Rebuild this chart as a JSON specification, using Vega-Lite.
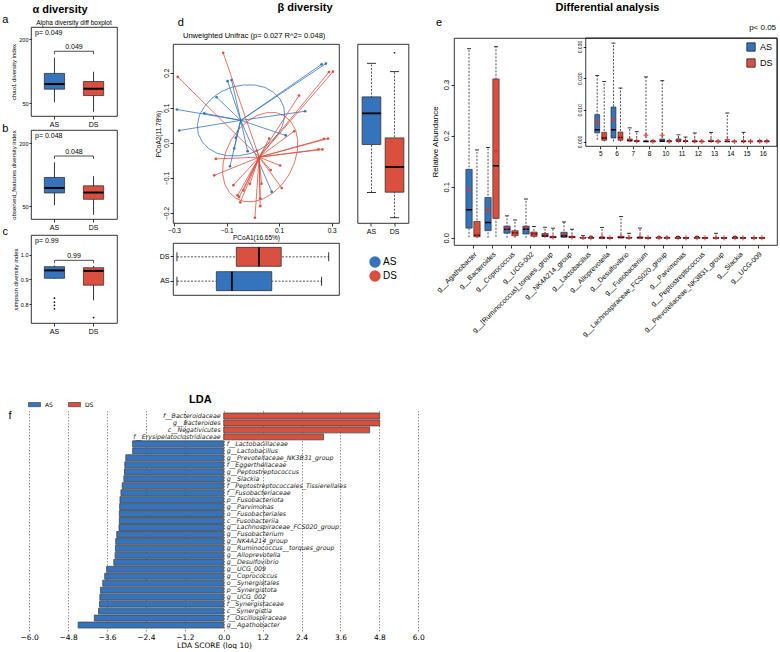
{
"$schema": "https://vega.github.io/schema/vega-lite/v6.json",
"padding": {"left": 0, "top": 2, "right": 0, "bottom": 0},
"background": "white",
"config": {
 "font": "Liberation Sans",
 "view": {"stroke": "black", "strokeWidth": 0.8},
 "axis": {"grid": false, "domain": false, "ticks": true, "tickColor": "black", "tickSize": 3, "tickWidth": 0.8, "labelColor": "black", "labelFontSize": 7, "labelPadding": 1, "titleColor": "black", "titleFontSize": 7, "titleFontWeight": "normal", "titlePadding": 2, "labelFont": "Liberation Sans", "titleFont": "Liberation Sans"},
 "title": {"color": "black", "font": "Liberation Sans"},
 "legend": {"labelFont": "Liberation Sans", "labelColor": "black"},
 "text": {"font": "Liberation Sans", "color": "black"}
},
"datasets": {
 "alpha": [
  {"metric":"chao1","group":"AS","lower":52,"q1":83,"median":95,"q3":120,"upper":157},
  {"metric":"chao1","group":"DS","lower":30,"q1":68,"median":84,"q3":101,"upper":124},
  {"metric":"observed","group":"AS","lower":53,"q1":82,"median":94,"q3":119,"upper":155},
  {"metric":"observed","group":"DS","lower":30,"q1":67,"median":83,"q3":99,"upper":122},
  {"metric":"simpson","group":"AS","lower":0.902,"q1":0.905,"median":0.937,"q3":0.952,"upper":0.957},
  {"metric":"simpson","group":"DS","lower":0.815,"q1":0.877,"median":0.935,"q3":0.948,"upper":0.955}
 ],
 "alpha_out": [
  {"group":"AS","value":0.824},{"group":"AS","value":0.808},{"group":"AS","value":0.795},{"group":"AS","value":0.781},{"group":"DS","value":0.745}
 ],
 "pcoa": [
  {"group":"AS","pc1":0.278,"pc2":0.226},{"group":"AS","pc1":0.262,"pc2":0.224},{"group":"AS","pc1":-0.096,"pc2":0.176},{"group":"AS","pc1":-0.081,"pc2":0.179},{"group":"AS","pc1":-0.138,"pc2":0.13},{"group":"AS","pc1":-0.289,"pc2":0.095},{"group":"AS","pc1":-0.185,"pc2":0.084},{"group":"AS","pc1":0.199,"pc2":0.09},{"group":"AS","pc1":-0.28,"pc2":0.035},{"group":"AS","pc1":0.125,"pc2":0.021},{"group":"AS","pc1":-0.065,"pc2":0.014},{"group":"AS","pc1":-0.071,"pc2":-0.016},{"group":"AS","pc1":-0.02,"pc2":-0.024},{"group":"AS","pc1":-0.087,"pc2":-0.067},{"group":"AS","pc1":0.072,"pc2":-0.14},
  {"group":"DS","pc1":-0.113,"pc2":0.257},{"group":"DS","pc1":-0.286,"pc2":0.188},{"group":"DS","pc1":0.305,"pc2":0.203},{"group":"DS","pc1":0.29,"pc2":0.202},{"group":"DS","pc1":0.176,"pc2":0.135},{"group":"DS","pc1":0.157,"pc2":0.033},{"group":"DS","pc1":0.286,"pc2":0.012},{"group":"DS","pc1":0.271,"pc2":0.011},{"group":"DS","pc1":0.265,"pc2":-0.019},{"group":"DS","pc1":0.25,"pc2":-0.019},{"group":"DS","pc1":0.062,"pc2":0.012},{"group":"DS","pc1":-0.141,"pc2":-0.046},{"group":"DS","pc1":-0.147,"pc2":-0.093},{"group":"DS","pc1":0.104,"pc2":-0.065},{"group":"DS","pc1":0.068,"pc2":-0.078},{"group":"DS","pc1":0.033,"pc2":-0.117},{"group":"DS","pc1":-0.011,"pc2":-0.117},{"group":"DS","pc1":-0.074,"pc2":-0.121},{"group":"DS","pc1":0.11,"pc2":-0.129},{"group":"DS","pc1":-0.036,"pc2":-0.136},{"group":"DS","pc1":-0.058,"pc2":-0.15},{"group":"DS","pc1":-0.052,"pc2":-0.155},{"group":"DS","pc1":-0.048,"pc2":-0.17},{"group":"DS","pc1":0.028,"pc2":-0.159},{"group":"DS","pc1":0.028,"pc2":-0.181},{"group":"DS","pc1":0.008,"pc2":-0.214},{"group":"DS","pc1":0.015,"pc2":-0.022}
 ],
 "centroid": [{"group":"AS","cx":-0.046,"cy":0.064},{"group":"DS","cx":0.024,"cy":-0.041}],
 "ellipse": [
  {"group":"AS","ord":0,"pc1":0.121,"pc2":0.076},{"group":"AS","ord":1,"pc1":0.118,"pc2":0.102},{"group":"AS","ord":2,"pc1":0.103,"pc2":0.125},{"group":"AS","ord":3,"pc1":0.079,"pc2":0.144},{"group":"AS","ord":4,"pc1":0.046,"pc2":0.158},{"group":"AS","ord":5,"pc1":0.007,"pc2":0.165},{"group":"AS","ord":6,"pc1":-0.036,"pc2":0.165},{"group":"AS","ord":7,"pc1":-0.079,"pc2":0.159},{"group":"AS","ord":8,"pc1":-0.12,"pc2":0.146},{"group":"AS","ord":9,"pc1":-0.156,"pc2":0.127},{"group":"AS","ord":10,"pc1":-0.184,"pc2":0.104},{"group":"AS","ord":11,"pc1":-0.203,"pc2":0.079},{"group":"AS","ord":12,"pc1":-0.211,"pc2":0.052},{"group":"AS","ord":13,"pc1":-0.208,"pc2":0.026},{"group":"AS","ord":14,"pc1":-0.193,"pc2":0.003},{"group":"AS","ord":15,"pc1":-0.169,"pc2":-0.016},{"group":"AS","ord":16,"pc1":-0.136,"pc2":-0.03},{"group":"AS","ord":17,"pc1":-0.097,"pc2":-0.037},{"group":"AS","ord":18,"pc1":-0.054,"pc2":-0.037},{"group":"AS","ord":19,"pc1":-0.011,"pc2":-0.031},{"group":"AS","ord":20,"pc1":0.03,"pc2":-0.018},{"group":"AS","ord":21,"pc1":0.066,"pc2":0.001},{"group":"AS","ord":22,"pc1":0.094,"pc2":0.024},{"group":"AS","ord":23,"pc1":0.113,"pc2":0.049},{"group":"AS","ord":24,"pc1":0.121,"pc2":0.076},
  {"group":"DS","ord":0,"pc1":0.169,"pc2":-0.025},{"group":"DS","ord":1,"pc1":0.171,"pc2":0.007},{"group":"DS","ord":2,"pc1":0.163,"pc2":0.036},{"group":"DS","ord":3,"pc1":0.145,"pc2":0.06},{"group":"DS","ord":4,"pc1":0.12,"pc2":0.077},{"group":"DS","ord":5,"pc1":0.089,"pc2":0.086},{"group":"DS","ord":6,"pc1":0.053,"pc2":0.086},{"group":"DS","ord":7,"pc1":0.016,"pc2":0.078},{"group":"DS","ord":8,"pc1":-0.021,"pc2":0.061},{"group":"DS","ord":9,"pc1":-0.054,"pc2":0.038},{"group":"DS","ord":10,"pc1":-0.082,"pc2":0.009},{"group":"DS","ord":11,"pc1":-0.102,"pc2":-0.024},{"group":"DS","ord":12,"pc1":-0.113,"pc2":-0.057},{"group":"DS","ord":13,"pc1":-0.115,"pc2":-0.089},{"group":"DS","ord":14,"pc1":-0.107,"pc2":-0.118},{"group":"DS","ord":15,"pc1":-0.089,"pc2":-0.142},{"group":"DS","ord":16,"pc1":-0.064,"pc2":-0.159},{"group":"DS","ord":17,"pc1":-0.033,"pc2":-0.168},{"group":"DS","ord":18,"pc1":0.003,"pc2":-0.168},{"group":"DS","ord":19,"pc1":0.04,"pc2":-0.16},{"group":"DS","ord":20,"pc1":0.077,"pc2":-0.143},{"group":"DS","ord":21,"pc1":0.11,"pc2":-0.12},{"group":"DS","ord":22,"pc1":0.138,"pc2":-0.091},{"group":"DS","ord":23,"pc1":0.158,"pc2":-0.058},{"group":"DS","ord":24,"pc1":0.169,"pc2":-0.025}
 ],
 "pc_box": [
  {"axis":"PC2","group":"AS","lower":-0.142,"q1":-0.005,"median":0.084,"q3":0.131,"upper":0.227},
  {"axis":"PC2","group":"DS","lower":-0.214,"q1":-0.141,"median":-0.069,"q3":0.014,"upper":0.203},
  {"axis":"PC1","group":"DS","lower":-0.289,"q1":-0.063,"median":0.023,"q3":0.108,"upper":0.289},
  {"axis":"PC1","group":"AS","lower":-0.289,"q1":-0.139,"median":-0.08,"q3":0.072,"upper":0.262}
 ],
 "pc_out": [{"group":"DS","pc2":0.257}],
 "diff": [
  {"genus":"g__Agathobacter","idx":"1","group":"AS","lower":0.001,"q1":0.019,"median":0.055,"q3":0.134,"upper":0.37,"mean":0.094},
  {"genus":"g__Agathobacter","idx":"1","group":"DS","lower":0,"q1":0.002,"median":0.0055,"q3":0.032,"upper":0.172,"mean":0.006},
  {"genus":"g__Bacteroides","idx":"2","group":"AS","lower":0,"q1":0.014,"median":0.03,"q3":0.079,"upper":0.177,"mean":0.055},
  {"genus":"g__Bacteroides","idx":"2","group":"DS","lower":0.002,"q1":0.038,"median":0.141,"q3":0.311,"upper":0.374,"mean":0.17},
  {"genus":"g__Coprococcus","idx":"3","group":"AS","lower":0,"q1":0.009,"median":0.017,"q3":0.023,"upper":0.043,"mean":0.019},
  {"genus":"g__Coprococcus","idx":"3","group":"DS","lower":0,"q1":0.004,"median":0.009,"q3":0.014,"upper":0.035,"mean":0.008},
  {"genus":"g__UCG-002","idx":"4","group":"AS","lower":0,"q1":0.0075,"median":0.017,"q3":0.023,"upper":0.076,"mean":0.02},
  {"genus":"g__UCG-002","idx":"4","group":"DS","lower":0,"q1":0.003,"median":0.007,"q3":0.0114,"upper":0.022,"mean":0.007},
  {"genus":"g__[Ruminococcus]_torques_group","idx":"5","group":"AS","lower":0.0005,"q1":0.0027,"median":0.0037,"q3":0.0085,"upper":0.0208,"mean":0.0061},
  {"genus":"g__[Ruminococcus]_torques_group","idx":"5","group":"DS","lower":0,"q1":0.0004,"median":0.0011,"q3":0.0029,"upper":0.019,"mean":0.0016},
  {"genus":"g__NK4A214_group","idx":"6","group":"AS","lower":0,"q1":0.0011,"median":0.0037,"q3":0.0109,"upper":0.0311,"mean":0.0071},
  {"genus":"g__NK4A214_group","idx":"6","group":"DS","lower":0,"q1":0.0004,"median":0.0013,"q3":0.003,"upper":0.0169,"mean":0.0015},
  {"genus":"g__Lactobacillus","idx":"7","group":"AS","lower":0,"q1":0.0001,"median":0.0004,"q3":0.0008,"upper":0.0043,"mean":0.0006},
  {"genus":"g__Lactobacillus","idx":"7","group":"DS","lower":0,"q1":0,"median":0.0001,"q3":0.0003,"upper":0.0031,"mean":0.0002},
  {"genus":"g__Alloprevotella","idx":"8","group":"AS","lower":0,"q1":0,"median":0,"q3":0.0002,"upper":0.0204,"mean":0.002},
  {"genus":"g__Alloprevotella","idx":"8","group":"DS","lower":0,"q1":0,"median":0,"q3":0.0001,"upper":0.0002,"mean":0.0001},
  {"genus":"g__Desulfovibrio","idx":"9","group":"AS","lower":0,"q1":0.0002,"median":0.0008,"q3":0.0025,"upper":0.0415,"mean":0.003},
  {"genus":"g__Desulfovibrio","idx":"9","group":"DS","lower":0,"q1":0,"median":0.0002,"q3":0.0006,"upper":0.009,"mean":0.0008},
  {"genus":"g__Fusobacterium","idx":"10","group":"AS","lower":0,"q1":0,"median":0.0001,"q3":0.0008,"upper":0.0192,"mean":0.002},
  {"genus":"g__Fusobacterium","idx":"10","group":"DS","lower":0,"q1":0,"median":0,"q3":0.0001,"upper":0.0003,"mean":0.0001},
  {"genus":"g__Lachnospiraceae_FCS020_group","idx":"11","group":"AS","lower":0,"q1":0.0001,"median":0.0002,"q3":0.0008,"upper":0.0021,"mean":0.0004},
  {"genus":"g__Lachnospiraceae_FCS020_group","idx":"11","group":"DS","lower":0,"q1":0,"median":0.0001,"q3":0.0002,"upper":0.0014,"mean":0.0002},
  {"genus":"g__Parvimonas","idx":"12","group":"AS","lower":0,"q1":0,"median":0,"q3":0.0002,"upper":0.0027,"mean":0.0002},
  {"genus":"g__Parvimonas","idx":"12","group":"DS","lower":0,"q1":0,"median":0,"q3":0,"upper":0.0001,"mean":0.00003},
  {"genus":"g__Peptostreptococcus","idx":"13","group":"AS","lower":0,"q1":0,"median":0.0001,"q3":0.0004,"upper":0.0029,"mean":0.0003},
  {"genus":"g__Peptostreptococcus","idx":"13","group":"DS","lower":0,"q1":0,"median":0,"q3":0,"upper":0.0001,"mean":0.00002},
  {"genus":"g__Prevotellaceae_NK3B31_group","idx":"14","group":"AS","lower":0,"q1":0,"median":0,"q3":0.0001,"upper":0.009,"mean":0.0006},
  {"genus":"g__Prevotellaceae_NK3B31_group","idx":"14","group":"DS","lower":0,"q1":0,"median":0,"q3":0,"upper":0.0001,"mean":0.00002},
  {"genus":"g__Slackia","idx":"15","group":"AS","lower":0,"q1":0,"median":0,"q3":0.0001,"upper":0.0029,"mean":0.0002},
  {"genus":"g__Slackia","idx":"15","group":"DS","lower":0,"q1":0,"median":0,"q3":0,"upper":0.0001,"mean":0.00002},
  {"genus":"g__UCG-009","idx":"16","group":"AS","lower":0,"q1":0,"median":0,"q3":0.0001,"upper":0.0003,"mean":0.0001},
  {"genus":"g__UCG-009","idx":"16","group":"DS","lower":0,"q1":0,"median":0,"q3":0.0001,"upper":0.0002,"mean":0.0001}
 ],
 "lda": [
  {"taxon":"f__Bacteroidaceae","lda":4.81,"group":"DS"},
  {"taxon":"g__Bacteroides","lda":4.81,"group":"DS"},
  {"taxon":"c__Negativicutes","lda":4.5,"group":"DS"},
  {"taxon":"f__Erysipelatoclostridiaceae","lda":3.08,"group":"DS"},
  {"taxon":"f__Lactobacillaceae","lda":-2.81,"group":"AS"},
  {"taxon":"g__Lactobacillus","lda":-2.81,"group":"AS"},
  {"taxon":"g__Prevotellaceae_NK3B31_group","lda":-3.02,"group":"AS"},
  {"taxon":"f__Eggerthellaceae","lda":-3.05,"group":"AS"},
  {"taxon":"g__Peptostreptococcus","lda":-3.06,"group":"AS"},
  {"taxon":"g__Slackia","lda":-3.08,"group":"AS"},
  {"taxon":"f__Peptostreptococcales_Tissierellales","lda":-3.13,"group":"AS"},
  {"taxon":"f__Fusobacteriaceae","lda":-3.17,"group":"AS"},
  {"taxon":"p__Fusobacteriota","lda":-3.2,"group":"AS"},
  {"taxon":"g__Parvimonas","lda":-3.21,"group":"AS"},
  {"taxon":"o__Fusobacteriales","lda":-3.22,"group":"AS"},
  {"taxon":"c__Fusobacteriia","lda":-3.22,"group":"AS"},
  {"taxon":"g__Lachnospiraceae_FCS020_group","lda":-3.23,"group":"AS"},
  {"taxon":"g__Fusobacterium","lda":-3.3,"group":"AS"},
  {"taxon":"g__NK4A214_group","lda":-3.33,"group":"AS"},
  {"taxon":"g__Ruminococcus__torques_group","lda":-3.34,"group":"AS"},
  {"taxon":"g__Alloprevotella","lda":-3.35,"group":"AS"},
  {"taxon":"g__Desulfovibrio","lda":-3.39,"group":"AS"},
  {"taxon":"g__UCG_009","lda":-3.61,"group":"AS"},
  {"taxon":"g__Coprococcus","lda":-3.67,"group":"AS"},
  {"taxon":"o__Synergistales","lda":-3.73,"group":"AS"},
  {"taxon":"p__Synergistota","lda":-3.8,"group":"AS"},
  {"taxon":"g__UCG_002","lda":-3.82,"group":"AS"},
  {"taxon":"f__Synergistaceae","lda":-3.83,"group":"AS"},
  {"taxon":"c__Synergistia","lda":-3.86,"group":"AS"},
  {"taxon":"f__Oscillospiraceae","lda":-3.99,"group":"AS"},
  {"taxon":"g__Agathobacter","lda":-4.49,"group":"AS"}
 ]
},
"spacing": 55,
"resolve": {"legend": {"color": "independent"}},
"vconcat": [
 {
  "hconcat": [
   {"width": 1, "height": 1, "view": {"stroke": null}, "data": {"values": [{}]}, "mark": {"type": "point", "opacity": 0, "size": 0}},
   {
    "hconcat": [
     {
      "vconcat": [
       {"width": 86, "height": 5, "view": {"stroke": null}, "data": {"values": [{}]}, "mark": {"type": "point", "opacity": 0, "size": 0},
        "title": {"text": "α diversity", "fontSize": 11, "fontWeight": "bold", "anchor": "middle", "frame": "group", "offset": 2, "dx": -14, "dy": 2}},
       {
        "width": 86, "height": 89,
        "layer": [
         {"data": {"name": "alpha"}, "transform": [{"filter": {"field": "metric", "equal": "chao1"}}],
          "mark": {"type": "rule", "color": "black", "strokeWidth": 0.8},
          "encoding": {
           "x": {"field": "group", "type": "nominal", "scale": {"domain": ["AS","DS"], "paddingInner": 0.3, "paddingOuter": 0.25}, "axis": {"title": null, "labelAngle": 0, "labelFontSize": 7}},
           "y": {"field": "lower", "type": "quantitative", "scale": {"domain": [20, 229], "nice": false, "zero": false}, "axis": {"values": [50,100,150,200], "title": "chao1 diversity index", "titleFontSize": 6, "labelFontSize": 5.5, "tickSize": 2, "titlePadding": 2}},
           "y2": {"field": "upper"}}},
         {"data": {"name": "alpha"}, "transform": [{"filter": {"field": "metric", "equal": "chao1"}}],
          "mark": {"type": "bar", "stroke": "#333", "strokeWidth": 0.8, "width": {"band": 0.74}},
          "encoding": {"x": {"field": "group", "type": "nominal"}, "y": {"field": "q1", "type": "quantitative"}, "y2": {"field": "q3"},
           "color": {"field": "group", "type": "nominal", "scale": {"domain": ["AS","DS"], "range": ["#3574BC","#D9503F"]}, "legend": null}}},
         {"data": {"name": "alpha"}, "transform": [{"filter": {"field": "metric", "equal": "chao1"}}],
          "mark": {"type": "tick", "color": "black", "thickness": 2, "size": 20, "opacity": 1},
          "encoding": {"x": {"field": "group", "type": "nominal"}, "y": {"field": "median", "type": "quantitative"}}},
         {"data": {"values": [{}]}, "mark": {"type": "rule", "color": "black", "strokeWidth": 0.7},
          "encoding": {"x": {"datum": "AS", "type": "nominal"}, "x2": {"datum": "DS"}, "y": {"datum": 172, "type": "quantitative"}}},
         {"data": {"values": [{}]}, "mark": {"type": "rule", "color": "black", "strokeWidth": 0.7},
          "encoding": {"x": {"datum": "AS", "type": "nominal"}, "y": {"datum": 172, "type": "quantitative"}, "y2": {"datum": 165}}},
         {"data": {"values": [{}]}, "mark": {"type": "rule", "color": "black", "strokeWidth": 0.7},
          "encoding": {"x": {"datum": "DS", "type": "nominal"}, "y": {"datum": 172, "type": "quantitative"}, "y2": {"datum": 165}}},
         {"data": {"values": [{}]}, "mark": {"type": "text", "fontSize": 7, "baseline": "bottom", "color": "black"},
          "encoding": {"x": {"datum": "AS", "type": "nominal", "bandPosition": 1.214}, "y": {"datum": 174, "type": "quantitative"}, "text": {"value": "0.049"}}},
         {"data": {"values": [{}]}, "mark": {"type": "text", "fontSize": 7, "align": "left", "baseline": "middle", "color": "black"},
          "encoding": {"x": {"datum": "AS", "type": "nominal", "bandPosition": -0.21}, "y": {"datum": 215, "type": "quantitative"}, "text": {"value": "p= 0.049"}}},
         {"data": {"values": [{}]}, "mark": {"type": "text", "fontSize": 6.5, "baseline": "middle", "color": "black"},
          "encoding": {"x": {"datum": "AS", "type": "nominal", "bandPosition": 1.214}, "y": {"datum": 238.5, "type": "quantitative"}, "text": {"value": "Alpha diversity diff boxplot"}}},
         {"data": {"values": [{}]}, "mark": {"type": "text", "fontSize": 11, "baseline": "middle", "color": "black"},
          "encoding": {"x": {"datum": "AS", "type": "nominal", "bandPosition": -1.3}, "y": {"datum": 244.3, "type": "quantitative"}, "text": {"value": "a"}}}
        ]
       },
       {
        "width": 86, "height": 89,
        "layer": [
         {"data": {"name": "alpha"}, "transform": [{"filter": {"field": "metric", "equal": "observed"}}],
          "mark": {"type": "rule", "color": "black", "strokeWidth": 0.8},
          "encoding": {
           "x": {"field": "group", "type": "nominal", "scale": {"domain": ["AS","DS"], "paddingInner": 0.3, "paddingOuter": 0.25}, "axis": {"title": null, "labelAngle": 0, "labelFontSize": 7}},
           "y": {"field": "lower", "type": "quantitative", "scale": {"domain": [20, 232], "nice": false, "zero": false}, "axis": {"values": [50,100,150,200], "title": "observed_features diversity index", "titleFontSize": 6, "labelFontSize": 5.5, "tickSize": 2, "titlePadding": 2}},
           "y2": {"field": "upper"}}},
         {"data": {"name": "alpha"}, "transform": [{"filter": {"field": "metric", "equal": "observed"}}],
          "mark": {"type": "bar", "stroke": "#333", "strokeWidth": 0.8, "width": {"band": 0.74}},
          "encoding": {"x": {"field": "group", "type": "nominal"}, "y": {"field": "q1", "type": "quantitative"}, "y2": {"field": "q3"},
           "color": {"field": "group", "type": "nominal", "scale": {"domain": ["AS","DS"], "range": ["#3574BC","#D9503F"]}, "legend": null}}},
         {"data": {"name": "alpha"}, "transform": [{"filter": {"field": "metric", "equal": "observed"}}],
          "mark": {"type": "tick", "color": "black", "thickness": 2, "size": 20, "opacity": 1},
          "encoding": {"x": {"field": "group", "type": "nominal"}, "y": {"field": "median", "type": "quantitative"}}},
         {"data": {"values": [{}]}, "mark": {"type": "rule", "color": "black", "strokeWidth": 0.7},
          "encoding": {"x": {"datum": "AS", "type": "nominal"}, "x2": {"datum": "DS"}, "y": {"datum": 170, "type": "quantitative"}}},
         {"data": {"values": [{}]}, "mark": {"type": "rule", "color": "black", "strokeWidth": 0.7},
          "encoding": {"x": {"datum": "AS", "type": "nominal"}, "y": {"datum": 170, "type": "quantitative"}, "y2": {"datum": 163}}},
         {"data": {"values": [{}]}, "mark": {"type": "rule", "color": "black", "strokeWidth": 0.7},
          "encoding": {"x": {"datum": "DS", "type": "nominal"}, "y": {"datum": 170, "type": "quantitative"}, "y2": {"datum": 163}}},
         {"data": {"values": [{}]}, "mark": {"type": "text", "fontSize": 7, "baseline": "bottom", "color": "black"},
          "encoding": {"x": {"datum": "AS", "type": "nominal", "bandPosition": 1.214}, "y": {"datum": 172, "type": "quantitative"}, "text": {"value": "0.048"}}},
         {"data": {"values": [{}]}, "mark": {"type": "text", "fontSize": 7, "align": "left", "baseline": "middle", "color": "black"},
          "encoding": {"x": {"datum": "AS", "type": "nominal", "bandPosition": -0.21}, "y": {"datum": 217, "type": "quantitative"}, "text": {"value": "p= 0.048"}}},
         {"data": {"values": [{}]}, "mark": {"type": "text", "fontSize": 11, "baseline": "middle", "color": "black"},
          "encoding": {"x": {"datum": "AS", "type": "nominal", "bandPosition": -1.3}, "y": {"datum": 234.4, "type": "quantitative"}, "text": {"value": "b"}}}
        ]
       },
       {
        "width": 86, "height": 88,
        "layer": [
         {"data": {"name": "alpha"}, "transform": [{"filter": {"field": "metric", "equal": "simpson"}}],
          "mark": {"type": "rule", "color": "black", "strokeWidth": 0.8},
          "encoding": {
           "x": {"field": "group", "type": "nominal", "scale": {"domain": ["AS","DS"], "paddingInner": 0.3, "paddingOuter": 0.25}, "axis": {"title": null, "labelAngle": 0, "labelFontSize": 7}},
           "y": {"field": "lower", "type": "quantitative", "scale": {"domain": [0.723, 1.081], "nice": false, "zero": false}, "axis": {"values": [0.8,0.9,1.0], "format": ".1f", "title": "simpson diversity index", "titleFontSize": 6, "labelFontSize": 5.5, "tickSize": 2, "titlePadding": 2}},
           "y2": {"field": "upper"}}},
         {"data": {"name": "alpha"}, "transform": [{"filter": {"field": "metric", "equal": "simpson"}}],
          "mark": {"type": "bar", "stroke": "#333", "strokeWidth": 0.8, "width": {"band": 0.74}},
          "encoding": {"x": {"field": "group", "type": "nominal"}, "y": {"field": "q1", "type": "quantitative"}, "y2": {"field": "q3"},
           "color": {"field": "group", "type": "nominal", "scale": {"domain": ["AS","DS"], "range": ["#3574BC","#D9503F"]}, "legend": null}}},
         {"data": {"name": "alpha"}, "transform": [{"filter": {"field": "metric", "equal": "simpson"}}],
          "mark": {"type": "tick", "color": "black", "thickness": 2, "size": 20, "opacity": 1},
          "encoding": {"x": {"field": "group", "type": "nominal"}, "y": {"field": "median", "type": "quantitative"}}},
         {"data": {"name": "alpha_out"}, "mark": {"type": "point", "filled": true, "size": 3, "color": "black", "opacity": 1},
          "encoding": {"x": {"field": "group", "type": "nominal"}, "y": {"field": "value", "type": "quantitative"}}},
         {"data": {"values": [{}]}, "mark": {"type": "rule", "color": "black", "strokeWidth": 0.7},
          "encoding": {"x": {"datum": "AS", "type": "nominal"}, "x2": {"datum": "DS"}, "y": {"datum": 0.978, "type": "quantitative"}}},
         {"data": {"values": [{}]}, "mark": {"type": "rule", "color": "black", "strokeWidth": 0.7},
          "encoding": {"x": {"datum": "AS", "type": "nominal"}, "y": {"datum": 0.978, "type": "quantitative"}, "y2": {"datum": 0.966}}},
         {"data": {"values": [{}]}, "mark": {"type": "rule", "color": "black", "strokeWidth": 0.7},
          "encoding": {"x": {"datum": "DS", "type": "nominal"}, "y": {"datum": 0.978, "type": "quantitative"}, "y2": {"datum": 0.966}}},
         {"data": {"values": [{}]}, "mark": {"type": "text", "fontSize": 7, "baseline": "bottom", "color": "black"},
          "encoding": {"x": {"datum": "AS", "type": "nominal", "bandPosition": 1.214}, "y": {"datum": 0.982, "type": "quantitative"}, "text": {"value": "0.99"}}},
         {"data": {"values": [{}]}, "mark": {"type": "text", "fontSize": 7, "align": "left", "baseline": "middle", "color": "black"},
          "encoding": {"x": {"datum": "AS", "type": "nominal", "bandPosition": -0.21}, "y": {"datum": 1.057, "type": "quantitative"}, "text": {"value": "p= 0.99"}}},
         {"data": {"values": [{}]}, "mark": {"type": "text", "fontSize": 11, "baseline": "middle", "color": "black"},
          "encoding": {"x": {"datum": "AS", "type": "nominal", "bandPosition": -1.3}, "y": {"datum": 1.093, "type": "quantitative"}, "text": {"value": "c"}}}
        ]
       }
      ],
      "spacing": -6,
      "resolve": {"legend": {"color": "independent"}}
     },
     {
      "hconcat": [
       {
        "vconcat": [
         {"width": 166, "height": 1, "view": {"stroke": null}, "data": {"values": [{}]}, "mark": {"type": "point", "opacity": 0, "size": 0},
          "title": {"text": "β diversity", "fontSize": 11, "fontWeight": "bold", "anchor": "middle", "frame": "group", "offset": 2, "dx": 49}},
         {
          "hconcat": [
           {
            "width": 166, "height": 179,
            "layer": [
             {"data": {"name": "ellipse"}, "mark": {"type": "line", "strokeWidth": 0.8},
              "encoding": {
               "x": {"field": "pc1", "type": "quantitative", "scale": {"domain": [-0.304, 0.328], "nice": false, "zero": false}, "axis": {"values": [-0.3,-0.2,-0.1,0,0.1,0.2,0.3], "format": ".1f", "title": "PCoA1(16.65%)", "titleFontSize": 6.5, "labelFontSize": 6.5, "titlePadding": 1}},
               "y": {"field": "pc2", "type": "quantitative", "scale": {"domain": [-0.229, 0.282], "nice": false, "zero": false}, "axis": {"values": [-0.2,-0.1,0,0.1,0.2], "format": ".1f", "title": "PCoA2(11.78%)", "labelAngle": -90, "labelAlign": "center", "labelBaseline": "bottom", "titleFontSize": 6.5, "labelFontSize": 6.5}},
               "color": {"field": "group", "type": "nominal", "scale": {"domain": ["AS","DS"], "range": ["#3574BC","#D9503F"]}, "legend": null},
               "detail": {"field": "group"},
               "order": {"field": "ord", "type": "quantitative"}}},
             {"data": {"name": "pcoa"}, "transform": [{"lookup": "group", "from": {"data": {"name": "centroid"}, "key": "group", "fields": ["cx", "cy"]}}],
              "mark": {"type": "rule", "strokeWidth": 0.8},
              "encoding": {"x": {"field": "cx", "type": "quantitative"}, "y": {"field": "cy", "type": "quantitative"}, "x2": {"field": "pc1"}, "y2": {"field": "pc2"},
               "color": {"field": "group", "type": "nominal", "legend": null}}},
             {"data": {"name": "pcoa"}, "mark": {"type": "point", "filled": true, "size": 7, "opacity": 1},
              "encoding": {"x": {"field": "pc1", "type": "quantitative"}, "y": {"field": "pc2", "type": "quantitative"},
               "color": {"field": "group", "type": "nominal", "legend": null}}},
             {"data": {"values": [{}]}, "mark": {"type": "text", "fontSize": 7.5, "baseline": "middle", "color": "black"},
              "encoding": {"x": {"datum": 0.005, "type": "quantitative"}, "y": {"datum": 0.305, "type": "quantitative"}, "text": {"value": "Unweighted Unifrac (p= 0.027  R^2= 0.048)"}}},
             {"data": {"values": [{}]}, "mark": {"type": "text", "fontSize": 11, "baseline": "middle", "color": "black"},
              "encoding": {"x": {"datum": -0.274, "type": "quantitative"}, "y": {"datum": 0.343, "type": "quantitative"}, "text": {"value": "d"}}}
            ]
           },
           {
            "width": 51, "height": 179,
            "layer": [
             {"data": {"name": "pc_box"}, "transform": [{"filter": {"field": "axis", "equal": "PC2"}}],
              "mark": {"type": "rule", "color": "black", "strokeWidth": 0.7, "strokeDash": [2, 1.5]},
              "encoding": {"x": {"field": "group", "type": "nominal", "scale": {"domain": ["AS","DS"], "paddingInner": 0.19, "paddingOuter": 0.2}, "axis": {"title": null, "labelAngle": 0, "labelFontSize": 7}},
               "y": {"field": "lower", "type": "quantitative", "scale": {"domain": [-0.229, 0.282], "nice": false, "zero": false}, "axis": null}, "y2": {"field": "upper"}}},
             {"data": {"name": "pc_box"}, "transform": [{"filter": {"field": "axis", "equal": "PC2"}}],
              "mark": {"type": "tick", "color": "black", "thickness": 0.8, "size": 9, "opacity": 1},
              "encoding": {"x": {"field": "group", "type": "nominal"}, "y": {"field": "upper", "type": "quantitative"}}},
             {"data": {"name": "pc_box"}, "transform": [{"filter": {"field": "axis", "equal": "PC2"}}],
              "mark": {"type": "tick", "color": "black", "thickness": 0.8, "size": 9, "opacity": 1},
              "encoding": {"x": {"field": "group", "type": "nominal"}, "y": {"field": "lower", "type": "quantitative"}}},
             {"data": {"name": "pc_box"}, "transform": [{"filter": {"field": "axis", "equal": "PC2"}}],
              "mark": {"type": "bar", "stroke": "#333", "strokeWidth": 0.8},
              "encoding": {"x": {"field": "group", "type": "nominal"}, "y": {"field": "q1", "type": "quantitative"}, "y2": {"field": "q3"},
               "color": {"field": "group", "type": "nominal", "legend": null}}},
             {"data": {"name": "pc_box"}, "transform": [{"filter": {"field": "axis", "equal": "PC2"}}],
              "mark": {"type": "tick", "color": "black", "thickness": 1.8, "size": 18.6, "opacity": 1},
              "encoding": {"x": {"field": "group", "type": "nominal"}, "y": {"field": "median", "type": "quantitative"}}},
             {"data": {"name": "pc_out"}, "mark": {"type": "point", "filled": true, "size": 3, "color": "black", "opacity": 1},
              "encoding": {"x": {"field": "group", "type": "nominal"}, "y": {"field": "pc2", "type": "quantitative"}}}
            ]
           }
          ],
          "spacing": 16.5,
          "resolve": {"legend": {"color": "independent"}}
         },
         {
          "width": 166, "height": 52,
          "layer": [
           {"data": {"name": "pc_box"}, "transform": [{"filter": {"field": "axis", "equal": "PC1"}}],
            "mark": {"type": "rule", "color": "black", "strokeWidth": 0.7, "strokeDash": [2, 1.5]},
            "encoding": {"y": {"field": "group", "type": "nominal", "scale": {"domain": ["DS","AS"], "paddingInner": 0.22, "paddingOuter": 0.18}, "axis": {"title": null, "labelFontSize": 7}},
             "x": {"field": "lower", "type": "quantitative", "scale": {"domain": [-0.304, 0.328], "nice": false, "zero": false}, "axis": null}, "x2": {"field": "upper"}}},
           {"data": {"name": "pc_box"}, "transform": [{"filter": {"field": "axis", "equal": "PC1"}}],
            "mark": {"type": "tick", "color": "black", "thickness": 0.8, "size": 9, "opacity": 1},
            "encoding": {"y": {"field": "group", "type": "nominal"}, "x": {"field": "upper", "type": "quantitative"}}},
           {"data": {"name": "pc_box"}, "transform": [{"filter": {"field": "axis", "equal": "PC1"}}],
            "mark": {"type": "tick", "color": "black", "thickness": 0.8, "size": 9, "opacity": 1},
            "encoding": {"y": {"field": "group", "type": "nominal"}, "x": {"field": "lower", "type": "quantitative"}}},
           {"data": {"name": "pc_box"}, "transform": [{"filter": {"field": "axis", "equal": "PC1"}}],
            "mark": {"type": "bar", "stroke": "#333", "strokeWidth": 0.8},
            "encoding": {"y": {"field": "group", "type": "nominal"}, "x": {"field": "q1", "type": "quantitative"}, "x2": {"field": "q3"},
             "color": {"field": "group", "type": "nominal", "legend": {"orient": "none", "legendX": 196, "legendY": 13, "title": null, "symbolType": "circle", "symbolSize": 130, "symbolStrokeWidth": 0, "labelFontSize": 10, "rowPadding": 2, "padding": 0, "labelOffset": 2}}}},
           {"data": {"name": "pc_box"}, "transform": [{"filter": {"field": "axis", "equal": "PC1"}}],
            "mark": {"type": "tick", "color": "black", "thickness": 1.8, "size": 19, "opacity": 1},
            "encoding": {"y": {"field": "group", "type": "nominal"}, "x": {"field": "median", "type": "quantitative"}}}
          ]
         }
        ],
        "spacing": 0,
        "resolve": {"legend": {"color": "independent"}}
       },
       {
        "vconcat": [
         {"width": 323, "height": 1, "view": {"stroke": null}, "data": {"values": [{}]}, "mark": {"type": "point", "opacity": 0, "size": 0},
          "title": {"text": "Differential analysis", "fontSize": 11, "fontWeight": "bold", "anchor": "middle", "frame": "group", "offset": 2, "dx": -8}},
         {
          "width": 323, "height": 207,
          "resolve": {"scale": {"x": "independent", "y": "independent", "xOffset": "independent"}},
          "layer": [
           {
            "layer": [
             {"data": {"name": "diff"},
              "mark": {"type": "rule", "color": "black", "strokeWidth": 0.7, "strokeDash": [2, 1.5]},
              "encoding": {
               "x": {"field": "genus", "type": "nominal", "scale": {"domain": ["g__Agathobacter","g__Bacteroides","g__Coprococcus","g__UCG-002","g__[Ruminococcus]_torques_group","g__NK4A214_group","g__Lactobacillus","g__Alloprevotella","g__Desulfovibrio","g__Fusobacterium","g__Lachnospiraceae_FCS020_group","g__Parvimonas","g__Peptostreptococcus","g__Prevotellaceae_NK3B31_group","g__Slackia","g__UCG-009"], "paddingInner": 0, "paddingOuter": 0.5}, "axis": {"title": null, "labelAngle": -45, "labelFontSize": 7, "labelPadding": 2}},
               "xOffset": {"field": "group", "type": "nominal", "scale": {"paddingInner": 0.2, "paddingOuter": 0.295}},
               "y": {"field": "lower", "type": "quantitative", "scale": {"domain": [-0.014, 0.391], "nice": false, "zero": false}, "axis": {"values": [0, 0.1, 0.2, 0.3], "format": ".1f", "title": "Relative Abundance", "titleFontSize": 8, "labelFontSize": 7.5, "labelAngle": -90, "labelAlign": "center", "labelBaseline": "bottom", "titlePadding": 3}},
               "y2": {"field": "upper"}}},
             {"data": {"name": "diff"},
              "mark": {"type": "tick", "color": "black", "thickness": 0.8, "size": 4, "opacity": 1},
              "encoding": {"x": {"field": "genus", "type": "nominal"}, "xOffset": {"field": "group", "type": "nominal"}, "y": {"field": "upper", "type": "quantitative"}}},
             {"data": {"name": "diff"},
              "mark": {"type": "bar", "stroke": "#222", "strokeWidth": 0.6},
              "encoding": {"x": {"field": "genus", "type": "nominal"}, "xOffset": {"field": "group", "type": "nominal"}, "y": {"field": "q1", "type": "quantitative"}, "y2": {"field": "q3"},
               "color": {"field": "group", "type": "nominal", "legend": {"orient": "top-right", "offset": 4, "title": null, "symbolType": "square", "symbolSize": 70, "symbolStrokeColor": "black", "symbolStrokeWidth": 0.8, "labelFontSize": 9, "rowPadding": 4}}}},
             {"data": {"name": "diff"},
              "mark": {"type": "tick", "color": "black", "thickness": 1.5, "size": 6, "opacity": 1},
              "encoding": {"x": {"field": "genus", "type": "nominal"}, "xOffset": {"field": "group", "type": "nominal"}, "y": {"field": "median", "type": "quantitative"}}},
             {"data": {"name": "diff"},
              "mark": {"type": "point", "shape": "M-1,0L1,0M0,-1L0,1", "filled": false, "stroke": "#E8302A", "strokeWidth": 1, "size": 25, "opacity": 1},
              "encoding": {"x": {"field": "genus", "type": "nominal"}, "xOffset": {"field": "group", "type": "nominal"}, "y": {"field": "mean", "type": "quantitative"}}},
             {"data": {"values": [{}]}, "mark": {"type": "text", "fontSize": 11, "baseline": "middle", "color": "black"},
              "encoding": {"x": {"datum": "g__Agathobacter", "type": "nominal", "bandPosition": -1.29}, "y": {"datum": 0.42, "type": "quantitative"}, "text": {"value": "e"}}},
             {"data": {"values": [{}]}, "mark": {"type": "text", "fontSize": 8, "baseline": "middle", "align": "right", "color": "black"},
              "encoding": {"x": {"datum": "g__UCG-009", "type": "nominal", "bandPosition": 1.45}, "y": {"datum": 0.411, "type": "quantitative"}, "text": {"value": "p< 0.05"}}}
            ]
           },
           {
            "layer": [
             {"data": {"values": [{}]}, "mark": {"type": "rect", "fill": "white", "fillOpacity": 0, "stroke": "black", "strokeWidth": 0.8},
              "encoding": {
               "x": {"datum": "5", "type": "nominal", "bandPosition": -0.42, "scale": {"domain": ["5","6","7","8","10","11","12","13","14","15","16"], "range": [138.57, 317.43], "paddingInner": 0, "paddingOuter": 0}, "axis": {"orient": "bottom", "offset": -98.7, "title": null, "labelAngle": 0, "labelFontSize": 6.5, "tickSize": 2.5, "labelPadding": 2}},
               "x2": {"datum": "16", "bandPosition": 1.34},
               "y": {"datum": 0.0327, "type": "quantitative", "scale": {"domain": [-0.0327, 0.0327], "nice": false, "zero": false}, "axis": {"orient": "left", "offset": -131.7, "values": [0, 0.005, 0.01, 0.015, 0.02, 0.025, 0.03], "format": ".3f", "labelAngle": -90, "labelAlign": "center", "labelBaseline": "bottom", "labelFontSize": 5, "tickSize": 2.5, "labelPadding": 1, "title": null}},
               "y2": {"datum": -0.00152}}},
             {"data": {"name": "diff"}, "transform": [{"filter": {"field": "idx", "oneOf": ["5","6","7","8","10","11","12","13","14","15","16"]}}],
              "mark": {"type": "rule", "color": "black", "strokeWidth": 0.7, "strokeDash": [2, 1.5]},
              "encoding": {"x": {"field": "idx", "type": "nominal"}, "xOffset": {"field": "group", "type": "nominal", "scale": {"paddingInner": 0.29, "paddingOuter": 0.306}}, "y": {"field": "lower", "type": "quantitative"}, "y2": {"field": "upper"}}},
             {"data": {"name": "diff"}, "transform": [{"filter": {"field": "idx", "oneOf": ["5","6","7","8","10","11","12","13","14","15","16"]}}],
              "mark": {"type": "tick", "color": "black", "thickness": 0.8, "size": 4, "opacity": 1},
              "encoding": {"x": {"field": "idx", "type": "nominal"}, "xOffset": {"field": "group", "type": "nominal"}, "y": {"field": "upper", "type": "quantitative"}}},
             {"data": {"name": "diff"}, "transform": [{"filter": {"field": "idx", "oneOf": ["5","6","7","8","10","11","12","13","14","15","16"]}}],
              "mark": {"type": "bar", "stroke": "#222", "strokeWidth": 0.6},
              "encoding": {"x": {"field": "idx", "type": "nominal"}, "xOffset": {"field": "group", "type": "nominal"}, "y": {"field": "q1", "type": "quantitative"}, "y2": {"field": "q3"},
               "color": {"field": "group", "type": "nominal"}}},
             {"data": {"name": "diff"}, "transform": [{"filter": {"field": "idx", "oneOf": ["5","6","7","8","10","11","12","13","14","15","16"]}}],
              "mark": {"type": "tick", "color": "black", "thickness": 1.5, "size": 5, "opacity": 1},
              "encoding": {"x": {"field": "idx", "type": "nominal"}, "xOffset": {"field": "group", "type": "nominal"}, "y": {"field": "median", "type": "quantitative"}}},
             {"data": {"name": "diff"}, "transform": [{"filter": {"field": "idx", "oneOf": ["5","6","7","8","10","11","12","13","14","15","16"]}}],
              "mark": {"type": "point", "shape": "M-1,0L1,0M0,-1L0,1", "filled": false, "stroke": "#E8302A", "strokeWidth": 1, "size": 25, "opacity": 1},
              "encoding": {"x": {"field": "idx", "type": "nominal"}, "xOffset": {"field": "group", "type": "nominal"}, "y": {"field": "mean", "type": "quantitative"}}}
            ]
           }
          ]
         }
        ],
        "spacing": 0,
        "resolve": {"legend": {"color": "independent"}}
       }
      ],
      "spacing": 21,
      "resolve": {"legend": {"color": "independent"}}
     }
    ],
    "spacing": 36,
    "resolve": {"legend": {"color": "independent"}}
   }
  ],
  "spacing": 0,
  "resolve": {"legend": {"color": "independent"}}
 },
 {
  "width": 428, "height": 221,
  "view": {"stroke": null},
  "layer": [
   {"data": {"name": "lda"},
    "mark": {"type": "bar", "stroke": "#444", "strokeWidth": 0.8},
    "encoding": {
     "y": {"field": "taxon", "type": "nominal", "scale": {"domain": ["f__Bacteroidaceae","g__Bacteroides","c__Negativicutes","f__Erysipelatoclostridiaceae","f__Lactobacillaceae","g__Lactobacillus","g__Prevotellaceae_NK3B31_group","f__Eggerthellaceae","g__Peptostreptococcus","g__Slackia","f__Peptostreptococcales_Tissierellales","f__Fusobacteriaceae","p__Fusobacteriota","g__Parvimonas","o__Fusobacteriales","c__Fusobacteriia","g__Lachnospiraceae_FCS020_group","g__Fusobacterium","g__NK4A214_group","g__Ruminococcus__torques_group","g__Alloprevotella","g__Desulfovibrio","g__UCG_009","g__Coprococcus","o__Synergistales","p__Synergistota","g__UCG_002","f__Synergistaceae","c__Synergistia","f__Oscillospiraceae","g__Agathobacter"], "paddingInner": 0.15, "paddingOuter": 0.43}, "axis": null},
     "x": {"field": "lda", "type": "quantitative", "scale": {"domain": [-6.9, 6.3], "nice": false, "zero": false}, "axis": {"values": [-6, -4.8, -3.6, -2.4, -1.2, 0, 1.2, 2.4, 3.6, 4.8, 6], "format": ".1f", "grid": true, "gridDash": [1.5, 1.5], "gridColor": "#666", "gridWidth": 0.7, "ticks": false, "domain": false, "title": "LDA SCORE (log 10)", "labelFont": "DejaVu Sans", "labelFontSize": 7.5, "titleFont": "DejaVu Sans", "titleFontSize": 7.5, "labelPadding": 2, "titlePadding": 1}},
     "x2": {"datum": 0},
     "color": {"field": "group", "type": "nominal", "legend": {"orient": "none", "legendX": 28, "legendY": -12, "direction": "horizontal", "title": null, "symbolType": "M-1,-0.35L1,-0.35L1,0.35L-1,0.35Z", "symbolSize": 144, "symbolStrokeColor": "#333", "symbolStrokeWidth": 0.6, "labelFontSize": 6, "labelFont": "DejaVu Sans", "columnPadding": 14, "labelOffset": 4, "padding": 0}}}},
   {"data": {"name": "lda"}, "transform": [{"filter": {"field": "group", "equal": "DS"}}],
    "mark": {"type": "text", "align": "right", "dx": -3, "baseline": "middle", "font": "DejaVu Sans", "fontStyle": "italic", "fontSize": 6.3, "color": "#222"},
    "encoding": {"y": {"field": "taxon", "type": "nominal"}, "x": {"datum": 0, "type": "quantitative"}, "text": {"field": "taxon"}}},
   {"data": {"name": "lda"}, "transform": [{"filter": {"field": "group", "equal": "AS"}}],
    "mark": {"type": "text", "align": "left", "dx": 3, "baseline": "middle", "font": "DejaVu Sans", "fontStyle": "italic", "fontSize": 6.3, "color": "#222"},
    "encoding": {"y": {"field": "taxon", "type": "nominal"}, "x": {"datum": 0, "type": "quantitative"}, "text": {"field": "taxon"}}},
   {"data": {"values": [{}]}, "mark": {"type": "text", "fontSize": 11, "baseline": "middle", "color": "black"},
    "encoding": {"y": {"datum": "f__Bacteroidaceae", "type": "nominal", "bandPosition": 0.5}, "x": {"datum": -6.59, "type": "quantitative"}, "text": {"value": "f"}}},
   {"data": {"values": [{}]}, "mark": {"type": "text", "fontSize": 11, "fontWeight": "bold", "baseline": "middle", "color": "black"},
    "encoding": {"y": {"datum": "f__Bacteroidaceae", "type": "nominal", "bandPosition": -2.2}, "x": {"datum": -0.72, "type": "quantitative"}, "text": {"value": "LDA"}}}
  ]
 }
]
}
